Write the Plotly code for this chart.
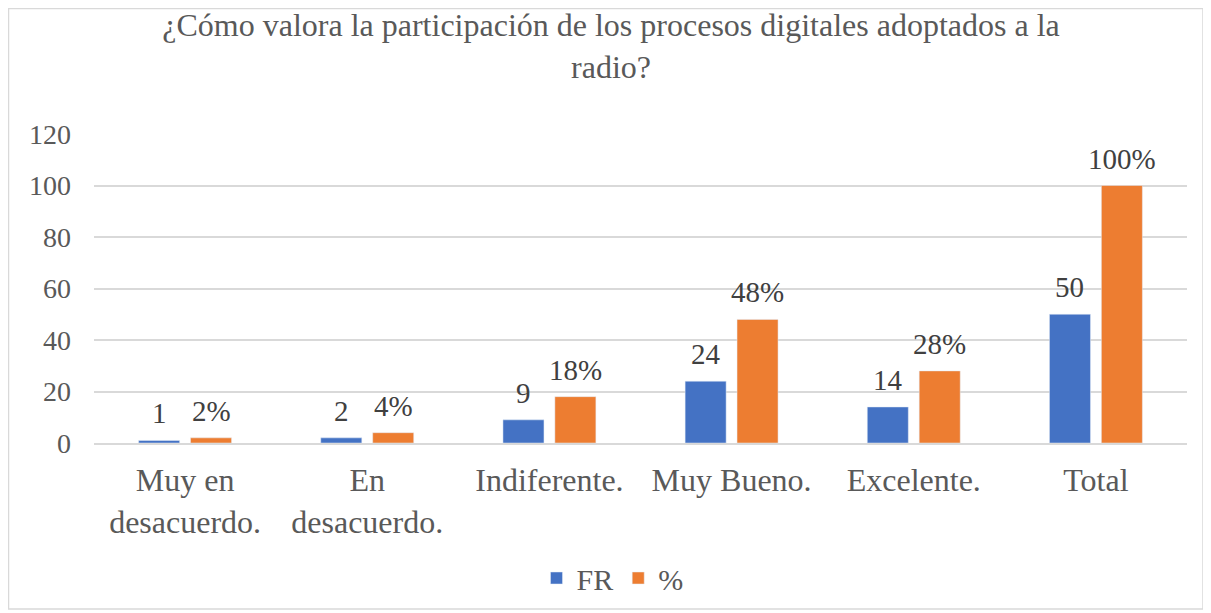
import plotly.graph_objects as go

categories = ["Muy en<br>desacuerdo.", "En<br>desacuerdo.", "Indiferente.", "Muy Bueno.", "Excelente.", "Total"]
fr_values = [1, 2, 9, 24, 14, 50]
pct_values = [2, 4, 18, 48, 28, 100]
y_ticks = [0, 20, 40, 60, 80, 100, 120]

FONT = "Liberation Serif"
TXT = "#595959"
LBL = "#404040"

# page body has an 8px margin; figure origin is at page (8, 8)
W, H = 1203, 605
L, T = 86, 126
R = W - 1179
B = H - 435
pw, ph = W - L - R, H - T - B
BARGAP = 0.43

fig = go.Figure()
fig.add_trace(go.Bar(name="FR", x=categories, y=fr_values, marker_color="#4472C4"))
fig.add_trace(go.Bar(name="%", x=categories, y=pct_values, marker_color="#ED7D31"))

# data labels, placed at each bar's top via the axis scales
slot = pw / len(categories) * (1 - BARGAP) / 2
for series, fmt, sign in ((fr_values, "{}", -1), (pct_values, "{}%", 1)):
    for c, v in zip(categories, series):
        fig.add_annotation(
            x=c, y=v, xref="x", yref="y", text=fmt.format(v), showarrow=False,
            xshift=sign * slot / 2, yshift=27, yanchor="middle",
            font=dict(family=FONT, size=29, color=LBL),
        )

fig.update_layout(
    width=W, height=H,
    margin=dict(l=L, r=R, t=T, b=B, autoexpand=False),
    paper_bgcolor="white", plot_bgcolor="white",
    font=dict(family=FONT, size=29, color=TXT),
    barmode="group", bargap=BARGAP, bargroupgap=0.21,
    title=dict(
        text="¿Cómo valora la participación de los procesos digitales adoptados a la<br>radio?",
        x=(611 - 8) / W, xanchor="center", xref="container",
        y=1 - 28 / H, yanchor="top", yref="container",
        font=dict(family=FONT, size=32, color=TXT),
    ),
    legend=dict(
        orientation="h", x=0.5 - 28 / pw, xanchor="center",
        y=(435 - 570) / ph, yanchor="middle",
        font=dict(family=FONT, size=30, color=TXT),
        itemwidth=30, traceorder="normal",
    ),
    showlegend=True,
)
fig.update_yaxes(
    range=[0, 120], tickvals=y_ticks, showgrid=True, gridcolor="#D9D9D9", gridwidth=1.5,
    zeroline=False, showline=False, ticks="", ticklen=0, ticklabelstandoff=22,
    tickfont=dict(family=FONT, size=28, color=TXT),
)
fig.update_xaxes(
    showline=True, linecolor="#D9D9D9", linewidth=1.5, ticks="", ticklabelstandoff=8,
    tickfont=dict(family=FONT, size=32, color=TXT),
)

fig.add_shape(
    type="rect", xref="paper", yref="paper",
    x0=(0.5 - L) / pw, x1=(1195 - L) / pw,
    y0=(435 - 601) / ph, y1=(435 - 0.5) / ph,
    line=dict(color="#D9D9D9", width=1.5), fillcolor="rgba(0,0,0,0)", layer="below",
)

fig.write_html("out.html")
